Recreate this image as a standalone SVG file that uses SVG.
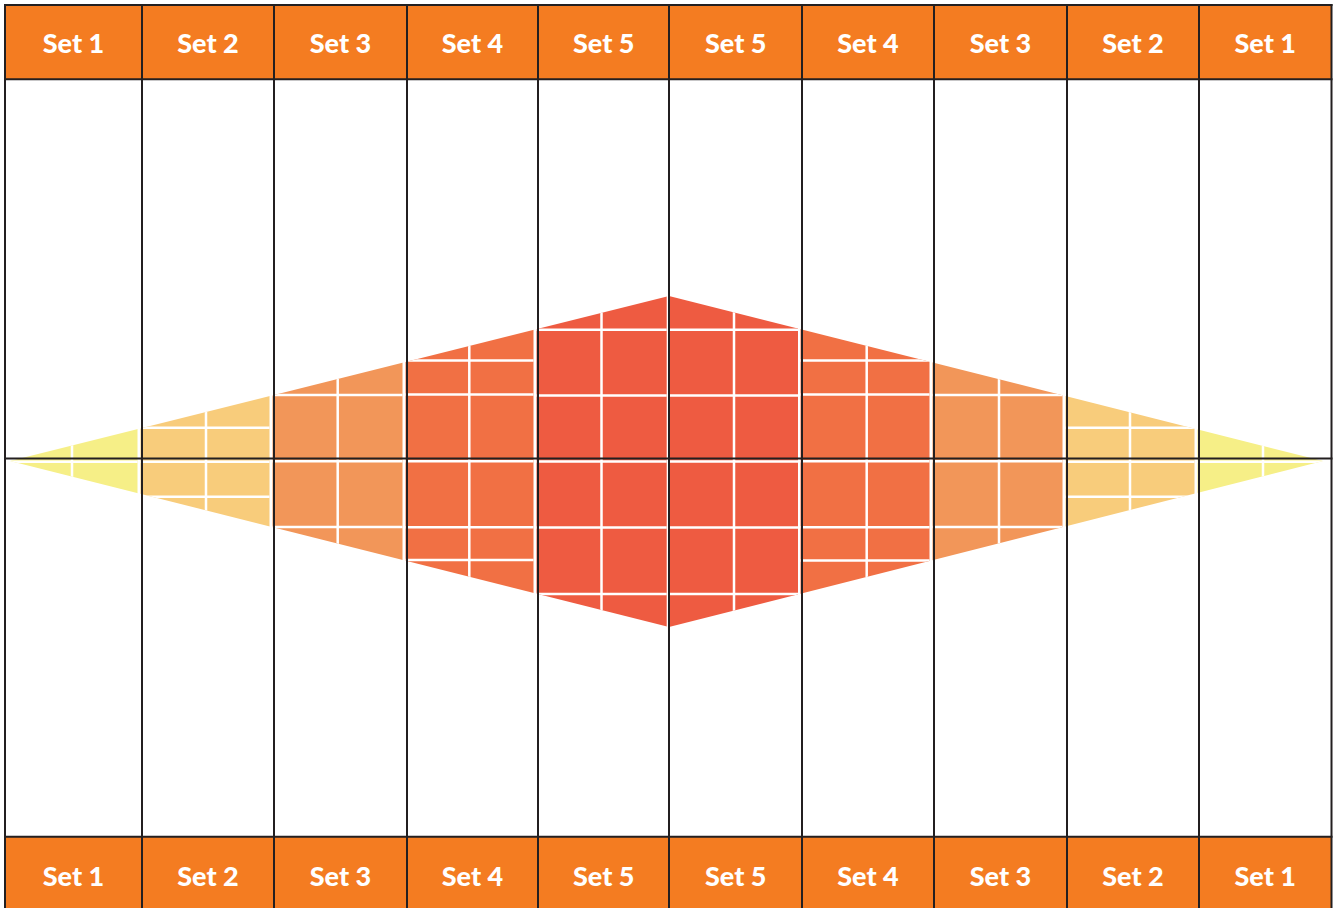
<svg xmlns="http://www.w3.org/2000/svg" width="1335" height="908" viewBox="0 0 1335 908">
  <defs>
    <clipPath id="diamond">
      <polygon points="10,461 669,296 1323,461 669,627"/>
    </clipPath>
    <style>
      .hdr { fill: #F47C21; }
      .lbl { font-family: Lato, "Open Sans", "Liberation Sans", sans-serif; font-weight: 900; font-size: 27px; fill: #FFFFFF; text-anchor: middle; }
      .wl { stroke: #FFFFFF; stroke-width: 2.5; fill: none; }
      .bl { stroke: #231F20; stroke-width: 2; fill: none; }
      .c1 { fill: #F6EF87; }
      .c2 { fill: #F8CC7B; }
      .c3 { fill: #F29659; }
      .c4 { fill: #F17044; }
      .c5 { fill: #EE5B41; }
    </style>
  </defs>
  <rect x="0" y="0" width="1335" height="908" fill="#FFFFFF"/>

  <!-- header cells -->
  <g id="header">
    <rect class="hdr" x="5" y="5" width="1326.5" height="74.3"/>
    <g id="h1"><text class="lbl" x="73.5" y="53">Set 1</text></g>
    <g id="h2"><text class="lbl" x="208" y="53">Set 2</text></g>
    <g id="h3"><text class="lbl" x="340.5" y="53">Set 3</text></g>
    <g id="h4"><text class="lbl" x="472.5" y="53">Set 4</text></g>
    <g id="h5"><text class="lbl" x="603.75" y="53">Set 5</text></g>
    <g id="h6"><text class="lbl" x="735.75" y="53">Set 5</text></g>
    <g id="h7"><text class="lbl" x="868" y="53">Set 4</text></g>
    <g id="h8"><text class="lbl" x="1000.5" y="53">Set 3</text></g>
    <g id="h9"><text class="lbl" x="1133" y="53">Set 2</text></g>
    <g id="h10"><text class="lbl" x="1265.25" y="53">Set 1</text></g>
  </g>

  <!-- footer cells -->
  <g id="footer">
    <rect class="hdr" x="5" y="836.7" width="1326.5" height="71.3"/>
    <g id="f1"><text class="lbl" x="73.5" y="885.5">Set 1</text></g>
    <g id="f2"><text class="lbl" x="208" y="885.5">Set 2</text></g>
    <g id="f3"><text class="lbl" x="340.5" y="885.5">Set 3</text></g>
    <g id="f4"><text class="lbl" x="472.5" y="885.5">Set 4</text></g>
    <g id="f5"><text class="lbl" x="603.75" y="885.5">Set 5</text></g>
    <g id="f6"><text class="lbl" x="735.75" y="885.5">Set 5</text></g>
    <g id="f7"><text class="lbl" x="868" y="885.5">Set 4</text></g>
    <g id="f8"><text class="lbl" x="1000.5" y="885.5">Set 3</text></g>
    <g id="f9"><text class="lbl" x="1133" y="885.5">Set 2</text></g>
    <g id="f10"><text class="lbl" x="1265.25" y="885.5">Set 1</text></g>
  </g>

  <!-- diamond -->
  <g id="diamond-fill" clip-path="url(#diamond)">
    <g id="d1">
      <rect class="c1" x="3.5" y="290" width="134" height="345"/>
      <line class="wl" x1="72" y1="290" x2="72" y2="635"/>
      <line class="wl" x1="3.5" y1="461.8" x2="137.5" y2="461.8"/>
    </g>
    <g id="d2">
      <rect class="c2" x="140.5" y="290" width="129" height="345"/>
      <line class="wl" x1="206" y1="290" x2="206" y2="635"/>
      <line class="wl" x1="140.5" y1="427.7" x2="269.5" y2="427.7"/>
      <line class="wl" x1="140.5" y1="461.8" x2="269.5" y2="461.8"/>
      <line class="wl" x1="140.5" y1="496.8" x2="269.5" y2="496.8"/>
    </g>
    <g id="d3">
      <rect class="c3" x="272.5" y="290" width="130" height="345"/>
      <line class="wl" x1="337.7" y1="290" x2="337.7" y2="635"/>
      <line class="wl" x1="272.5" y1="395" x2="402.5" y2="395"/>
      <line class="wl" x1="272.5" y1="461.3" x2="402.5" y2="461.3"/>
      <line class="wl" x1="272.5" y1="527" x2="402.5" y2="527"/>
    </g>
    <g id="d4">
      <rect class="c4" x="405.5" y="290" width="128" height="345"/>
      <line class="wl" x1="469.3" y1="290" x2="469.3" y2="635"/>
      <line class="wl" x1="405.5" y1="360.5" x2="533.5" y2="360.5"/>
      <line class="wl" x1="405.5" y1="394.5" x2="533.5" y2="394.5"/>
      <line class="wl" x1="405.5" y1="461.2" x2="533.5" y2="461.2"/>
      <line class="wl" x1="405.5" y1="527.3" x2="533.5" y2="527.3"/>
      <line class="wl" x1="405.5" y1="560" x2="533.5" y2="560"/>
    </g>
    <g id="d5">
      <rect class="c5" x="536.5" y="290" width="130.2" height="345"/>
      <line class="wl" x1="601.5" y1="290" x2="601.5" y2="635"/>
      <line class="wl" x1="536.5" y1="329.7" x2="666.7" y2="329.7"/>
      <line class="wl" x1="536.5" y1="395.5" x2="666.7" y2="395.5"/>
      <line class="wl" x1="536.5" y1="461.5" x2="666.7" y2="461.5"/>
      <line class="wl" x1="536.5" y1="527.5" x2="666.7" y2="527.5"/>
      <line class="wl" x1="536.5" y1="594" x2="666.7" y2="594"/>
    </g>
    <g id="d6">
      <rect class="c5" x="668" y="290" width="130" height="345"/>
      <line class="wl" x1="734" y1="290" x2="734" y2="635"/>
      <line class="wl" x1="668" y1="329.7" x2="798" y2="329.7"/>
      <line class="wl" x1="668" y1="395.5" x2="798" y2="395.5"/>
      <line class="wl" x1="668" y1="461.5" x2="798" y2="461.5"/>
      <line class="wl" x1="668" y1="527.5" x2="798" y2="527.5"/>
      <line class="wl" x1="668" y1="594" x2="798" y2="594"/>
    </g>
    <g id="d7">
      <rect class="c4" x="800.5" y="290" width="129" height="345"/>
      <line class="wl" x1="866.7" y1="290" x2="866.7" y2="635"/>
      <line class="wl" x1="800.5" y1="360.5" x2="929.5" y2="360.5"/>
      <line class="wl" x1="800.5" y1="394.5" x2="929.5" y2="394.5"/>
      <line class="wl" x1="800.5" y1="461.2" x2="929.5" y2="461.2"/>
      <line class="wl" x1="800.5" y1="527.3" x2="929.5" y2="527.3"/>
      <line class="wl" x1="800.5" y1="560.5" x2="929.5" y2="560.5"/>
    </g>
    <g id="d8">
      <rect class="c3" x="932.5" y="290" width="130" height="345"/>
      <line class="wl" x1="999" y1="290" x2="999" y2="635"/>
      <line class="wl" x1="932.5" y1="395" x2="1062.5" y2="395"/>
      <line class="wl" x1="932.5" y1="461.3" x2="1062.5" y2="461.3"/>
      <line class="wl" x1="932.5" y1="527" x2="1062.5" y2="527"/>
    </g>
    <g id="d9">
      <rect class="c2" x="1065.5" y="290" width="129" height="345"/>
      <line class="wl" x1="1130" y1="290" x2="1130" y2="635"/>
      <line class="wl" x1="1065.5" y1="427.7" x2="1194.5" y2="427.7"/>
      <line class="wl" x1="1065.5" y1="461.8" x2="1194.5" y2="461.8"/>
      <line class="wl" x1="1065.5" y1="496.8" x2="1194.5" y2="496.8"/>
    </g>
    <g id="d10">
      <rect class="c1" x="1197.5" y="290" width="130" height="345"/>
      <line class="wl" x1="1263" y1="290" x2="1263" y2="635"/>
      <line class="wl" x1="1197.5" y1="461.8" x2="1327.5" y2="461.8"/>
    </g>
  </g>

  <!-- grid lines -->
  <g id="grid">
    <line class="bl" x1="4" y1="5" x2="1332.5" y2="5"/>
    <line class="bl" x1="4" y1="79.3" x2="1332.5" y2="79.3"/>
    <line class="bl" x1="4" y1="458.5" x2="1332.5" y2="458.5"/>
    <line class="bl" x1="4" y1="836.7" x2="1332.5" y2="836.7"/>
    <line class="bl" x1="5" y1="4" x2="5" y2="908"/>
    <line class="bl" x1="142" y1="4" x2="142" y2="908"/>
    <line class="bl" x1="274" y1="4" x2="274" y2="908"/>
    <line class="bl" x1="407" y1="4" x2="407" y2="908"/>
    <line class="bl" x1="538" y1="4" x2="538" y2="908"/>
    <line class="bl" x1="669" y1="4" x2="669" y2="908"/>
    <line class="bl" x1="802" y1="4" x2="802" y2="908"/>
    <line class="bl" x1="934" y1="4" x2="934" y2="908"/>
    <line class="bl" x1="1067" y1="4" x2="1067" y2="908"/>
    <line class="bl" x1="1199" y1="4" x2="1199" y2="908"/>
    <line class="bl" x1="1331.5" y1="4" x2="1331.5" y2="908"/>
  </g>
</svg>
